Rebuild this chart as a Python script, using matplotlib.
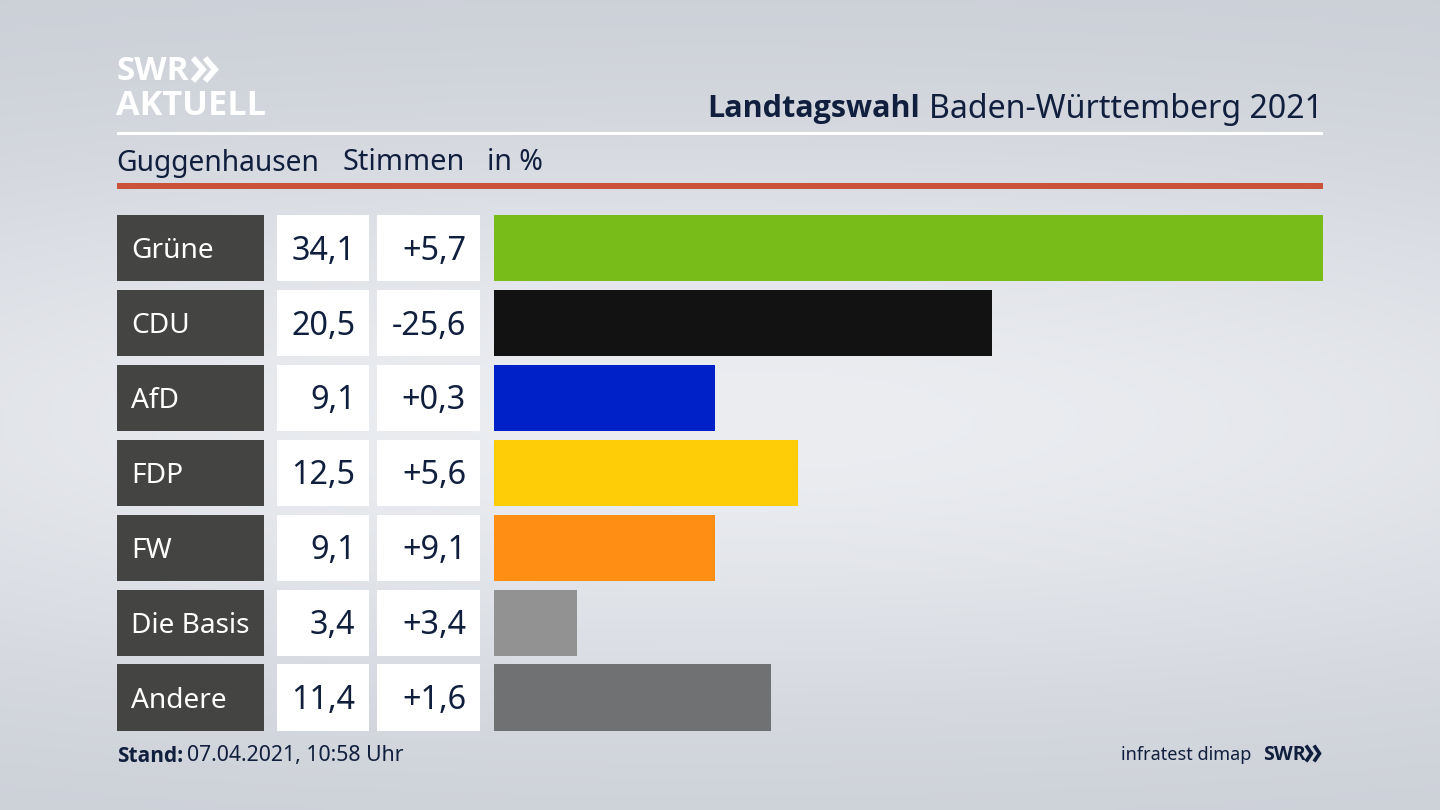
import matplotlib
matplotlib.use("Agg")
import matplotlib.pyplot as plt
from matplotlib.patches import Rectangle

import numpy as np

parties = ["Grüne", "CDU", "AfD", "FDP", "FW", "Die Basis", "Andere"]
shares = [34.1, 20.5, 9.1, 12.5, 9.1, 3.4, 11.4]
share_labels = ["34,1", "20,5", "9,1", "12,5", "9,1", "3,4", "11,4"]
diff_labels = ["+5,7", "-25,6", "+0,3", "+5,6", "+9,1", "+3,4", "+1,6"]
colors = ["#78bc1a", "#121212", "#0021c8", "#ffcc08", "#ff8e14", "#929292", "#707172"]

navy = "#0f1f3d"
plt.rcParams["font.family"] = "Noto Sans"

fig = plt.figure(figsize=(14.4, 8.1), dpi=100)

# whole figure in pixel coordinates, for background and table cells
bg = fig.add_axes([0, 0, 1, 1])
bg.set_xlim(0, 1440)
bg.set_ylim(810, 0)
bg.axis("off")

yy, xx = np.mgrid[0:1:162j, 0:1:288j]
shade = np.exp(-((yy - 0.52) / 0.36) ** 2) * (1 - 0.25 * ((xx - 0.5) / 0.5) ** 2)
grad = np.zeros(shade.shape + (3,))
top = np.array([201, 205, 213]) / 255
mid = np.array([235, 237, 241]) / 255
for i in range(3):
    grad[:, :, i] = top[i] + (mid[i] - top[i]) * shade
bg.imshow(grad, extent=(0, 1440, 810, 0), aspect="auto", interpolation="bilinear", zorder=0)

# header
bg.add_patch(Rectangle((117, 132), 1206, 3, color="white", lw=0))
bg.add_patch(Rectangle((117, 183), 1206, 6, color="#ca5238", lw=0))
bg.text(117, 72, "SWR", color="white", fontsize=24, fontweight="bold", va="center", family="Open Sans")
bg.text(116, 106, "AKTUELL", color="white", fontsize=24.7, fontweight="bold", va="center", family="Open Sans")
for x0 in (193, 205):
    bg.plot([x0, x0 + 10, x0], [58, 69.5, 81], color="white", lw=4.2, solid_joinstyle="miter", solid_capstyle="butt")

t = bg.text(1323, 109, "Baden-Württemberg 2021", color=navy, fontsize=23.1, ha="right", va="center")
fig.canvas.draw()
ext = t.get_window_extent()
bg.text(ext.x0 - 9, 109, "Landtagswahl", color=navy, fontsize=22, fontweight="bold", ha="right", va="center", family="Open Sans")

bg.text(116.5, 163, "Guggenhausen", color=navy, fontsize=20.3, va="center")
bg.text(343, 163, "Stimmen", color=navy, fontsize=20.8, va="center")
bg.text(487, 163, "in %", color=navy, fontsize=20.5, va="center")

# table rows
row_top = 215
row_step = 74.9
row_h = 66.3
for i, party in enumerate(parties):
    y0 = row_top + i * row_step
    yc = y0 + row_h / 2
    bg.add_patch(Rectangle((117, y0), 147, row_h, color="#444442", lw=0))
    bg.add_patch(Rectangle((277, y0), 92, row_h, color="white", lw=0))
    bg.add_patch(Rectangle((377, y0), 103, row_h, color="white", lw=0))
    bg.text(131, yc + 3, party, color="white", fontsize=20.2, va="center")
    bg.text(355.5, yc + 3, share_labels[i], color=navy, fontsize=23.3, ha="right", va="center")
    bg.text(466, yc + 3, diff_labels[i], color=navy, fontsize=23.3, ha="right", va="center")

# bars
ax = fig.add_axes([494 / 1440, 1 - (215 + 6 * row_step + row_h) / 810, (1323 - 494) / 1440, (6 * row_step + row_h) / 810])
ax.patch.set_alpha(0)
ax.barh(range(len(parties)), shares, height=row_h / row_step, color=colors)
ax.set_xlim(0, 34.1)
ax.set_ylim(6 + row_h / row_step / 2, -row_h / row_step / 2)
ax.axis("off")

# footer
bg.text(117, 756, "Stand:", color=navy, fontsize=15, fontweight="bold", va="center", family="Open Sans")
bg.text(187, 756, "07.04.2021, 10:58 Uhr", color=navy, fontsize=15.3, va="center")
bg.text(1251, 755, "infratest dimap", color=navy, fontsize=13, ha="right", va="center")
bg.text(1263, 755, "SWR", color=navy, fontsize=14, fontweight="bold", va="center", family="Open Sans")
for x0 in (1306, 1314):
    bg.plot([x0, x0 + 5.5, x0], [745.5, 753.5, 761.5], color=navy, lw=2.6, solid_joinstyle="miter", solid_capstyle="butt")

fig.savefig("out.png", dpi=100)
plt.close(fig)
